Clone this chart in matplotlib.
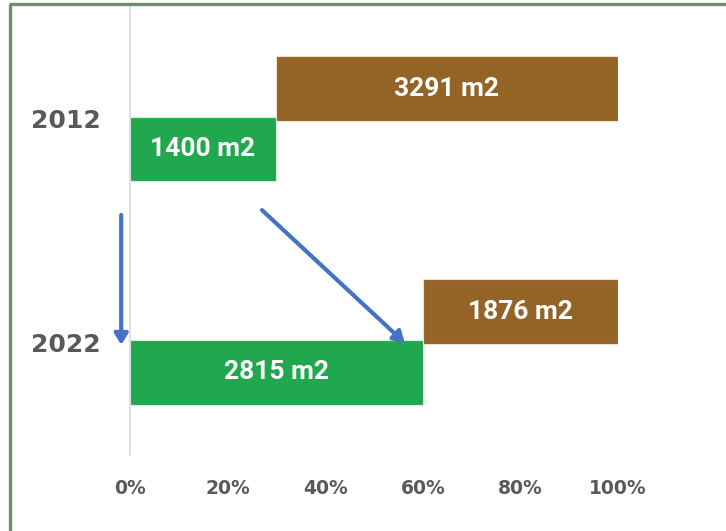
import matplotlib.pyplot as plt
from matplotlib.lines import Line2D
import numpy as np

# area per year, split in two parts (m2)
years = ["2012", "2022"]
green_m2 = [1400, 2815]
brown_m2 = [3291, 1876]
tick_vals = [0, 0.2, 0.4, 0.6, 0.8, 1.0]
tick_labels = ["0%", "20%", "40%", "60%", "80%", "100%"]

GREEN = "#21a84f"
BROWN = "#946326"
BLUE = "#4472c4"
TEXT = "#595959"

green = np.array(green_m2, dtype=float)
brown = np.array(brown_m2, dtype=float)
total = green + brown
g_share = green / total
b_share = brown / total

ypos = np.array([1.0, 0.0])  # 2012 on top
h = 0.29
off = 0.1355

fig = plt.figure(figsize=(7.26, 5.31), dpi=100)
fig.patch.set_facecolor("white")
ax = fig.add_axes([130 / 726, 1 - 455 / 531, 488 / 726, 448 / 531])

ax.barh(ypos - off, g_share, height=h, color=GREEN,
        edgecolor="#d9f0df", linewidth=0.8, zorder=2)
ax.barh(ypos + off, b_share, left=g_share, height=h, color=BROWN,
        edgecolor="#efe2cc", linewidth=0.8, zorder=3)

lbl = dict(color="white", fontsize=19, fontweight="bold", family="Roboto",
           ha="center", va="center", zorder=5)
for y, gs, bs, gv, bv in zip(ypos, g_share, b_share, green_m2, brown_m2):
    ax.text(gs / 2, y - off, f"{gv} m2", **lbl)
    ax.text(gs + bs / 2, y + off, f"{bv} m2", **lbl)

# arrows: left one marks the move down the years, the other follows the green share
arr = dict(arrowstyle="-|>,head_width=0.4,head_length=0.65", color=BLUE, lw=3,
           shrinkA=0, shrinkB=0)
ax.annotate("", xy=(-0.018, ypos[1] - 0.013), xytext=(-0.018, ypos[0] - 0.431),
            arrowprops=arr, annotation_clip=False, zorder=6)
ax.annotate("", xy=(g_share[1] - 0.037, ypos[1] - 0.004),
            xytext=(g_share[0] - 0.028, ypos[0] - 0.409),
            arrowprops=arr, annotation_clip=False, zorder=6)

ax.set_xlim(0, 1)
ax.set_ylim(-0.506, 1.5006)
ax.set_xticks(tick_vals)
ax.set_xticklabels(tick_labels)
ax.set_yticks(ypos)
ax.set_yticklabels(years)
ax.tick_params(axis="x", length=0, pad=17, labelsize=13.5, labelcolor=TEXT)
ax.tick_params(axis="y", length=0, pad=21, labelsize=18, labelcolor=TEXT)
for t in ax.get_xticklabels() + ax.get_yticklabels():
    t.set_fontweight("heavy")

for s in ("top", "right", "bottom"):
    ax.spines[s].set_visible(False)
ax.spines["left"].set_color("#d9d9d9")
ax.spines["left"].set_linewidth(1.2)

# frame along the top and left edge
fc = "#6b8f6b"
fig.add_artist(Line2D([9.5 / 726, 9.5 / 726], [0, 1 - 3.5 / 531],
                      transform=fig.transFigure, color=fc, lw=2.4,
                      solid_capstyle="butt"))
fig.add_artist(Line2D([8.5 / 726, 1], [1 - 3.5 / 531, 1 - 3.5 / 531],
                      transform=fig.transFigure, color=fc, lw=2.4,
                      solid_capstyle="butt"))

fig.savefig("out.png", dpi=100, facecolor="white")
